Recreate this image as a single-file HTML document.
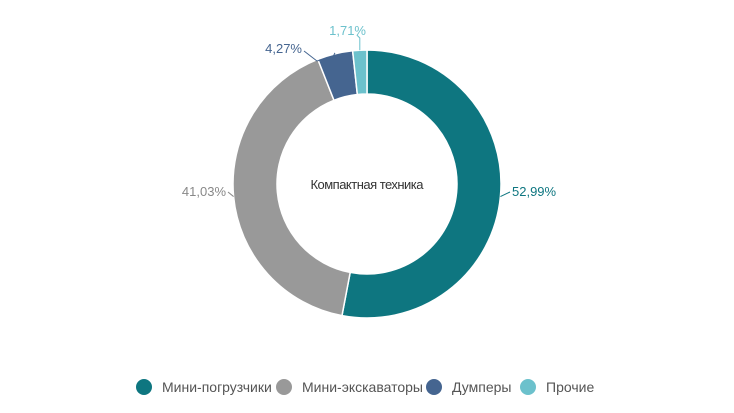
<!DOCTYPE html>
<html><head><meta charset="utf-8"><style>
body{margin:0;background:#fff;width:734px;height:413px;overflow:hidden;font-family:"Liberation Sans",sans-serif}
svg{display:block}
</style></head><body>
<svg width="734" height="413">
<g id="slices"></g><g id="labels"></g>
<text x="367" y="189" text-anchor="middle" font-size="13" fill="#333" textLength="113">Компактная техника</text>
<g id="legend"></g>
</svg>
<script>
const categories=["Мини-погрузчики","Мини-экскаваторы","Думперы","Прочие"];
const values=[52.99,41.03,4.27,1.71];
const labels=["52,99%","41,03%","4,27%","1,71%"];
const colors=["#0e7680","#999999","#456590","#6cc1cc"];
const labelColors=["#0e7680","#888","#456590","#6cc1cc"];
const cx=367,cy=184,R=134,r=90,NS="http://www.w3.org/2000/svg";
const total=values.reduce((a,b)=>a+b,0);
const sl=document.getElementById('slices'),lb=document.getElementById('labels'),lg=document.getElementById('legend');
function pt(a,rad){return [cx+rad*Math.sin(a),cy-rad*Math.cos(a)];}
let acc=0;
const labelPos=[[512,196,"start"],[226,196,"end"],[302,53,"end"],[366,35,"end"]];
values.forEach((v,i)=>{
 const a0=acc/total*2*Math.PI;acc+=v;const a1=acc/total*2*Math.PI;
 const [x0,y0]=pt(a0,R),[x1,y1]=pt(a1,R),[x2,y2]=pt(a1,r),[x3,y3]=pt(a0,r);
 const lg1=(a1-a0)>Math.PI?1:0;
 const p=document.createElementNS(NS,'path');
 p.setAttribute('d',`M${x0},${y0}A${R},${R} 0 ${lg1} 1 ${x1},${y1}L${x2},${y2}A${r},${r} 0 ${lg1} 0 ${x3},${y3}Z`);
 p.setAttribute('fill',colors[i]);p.setAttribute('stroke','#fff');p.setAttribute('stroke-width','1.5');
 
 
 sl.appendChild(p);
 const am=(a0+a1)/2;const [mx,my]=pt(am,R);const [lx,ly,anc]=labelPos[i];
 const ln=document.createElementNS(NS,'polyline');
 const ex=anc==="start"?lx-2:lx+2;
 let pts;
 if(i===2) pts=`${mx},${my-1} ${mx-2},${ly+4} ${mx-18},${ly+8} ${ex},${ly-2}`;
 else if(i===3) pts=`${mx},${my} ${mx},${ly+3} ${mx-3},${ly}`;
 else pts=`${mx},${my} ${ex},${ly-4}`;
 ln.setAttribute('points',pts);ln.setAttribute('fill','none');ln.setAttribute('stroke',labelColors[i]);
 
 
 lb.appendChild(ln);
 const t=document.createElementNS(NS,'text');
 t.setAttribute('x',lx);t.setAttribute('y',ly);t.setAttribute('text-anchor',anc);t.setAttribute('font-size','13');t.setAttribute('fill',labelColors[i]);
 t.textContent=labels[i];
 
 
 lb.appendChild(t);
});
const legX=[144,284,434,528];
categories.forEach((c,i)=>{
 const g=document.createElementNS(NS,'g');
 
 
 const ci=document.createElementNS(NS,'circle');
 ci.setAttribute('cx',legX[i]);ci.setAttribute('cy',387);ci.setAttribute('r',8);ci.setAttribute('fill',colors[i]);
 
 
 const t=document.createElementNS(NS,'text');
 t.setAttribute('x',legX[i]+18);t.setAttribute('y',392);t.setAttribute('font-size','14');t.setAttribute('fill','#555');
 t.textContent=c;
 
 
 g.appendChild(ci);g.appendChild(t);lg.appendChild(g);
});
</script>
</body></html>
